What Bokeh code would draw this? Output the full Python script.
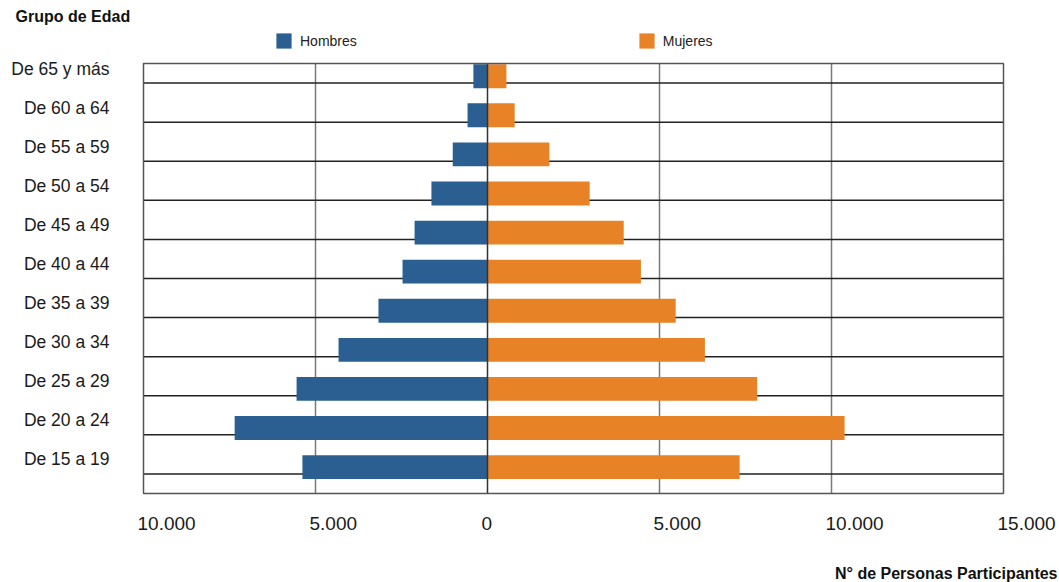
from bokeh.plotting import figure
from bokeh.models import ColumnDataSource, Range1d, Legend, LegendItem, Label, LabelSet
from bokeh.core.properties import value
from bokeh.embed import file_html
from bokeh.resources import INLINE

# ---- data ----
ages = ["De 15 a 19", "De 20 a 24", "De 25 a 29", "De 30 a 34", "De 35 a 39",
        "De 40 a 44", "De 45 a 49", "De 50 a 54", "De 55 a 59", "De 60 a 64", "De 65 y más"]
hombres = [5380, 7350, 5550, 4330, 3170, 2470, 2120, 1630, 1010, 580, 410]
mujeres = [7330, 10380, 7840, 6320, 5470, 4460, 3960, 2970, 1800, 790, 550]
x_ticks = [-10000, -5000, 0, 5000, 10000, 15000]
x_tick_labels = ["10.000", "5.000", "0", "5.000", "10.000", "15.000"]

BLUE = "#2B5F91"
ORANGE = "#E88226"
FONT = "Liberation Sans"
TXT = "#1a1a1a"

W, H = 1059, 582
# plot area (pixels) inside the canvas
FL, FR, FT, FB = 143, 1003, 63, 493
XMIN, XMAX = x_ticks[0], x_ticks[-1]
n = len(ages)
ppx = (FR - FL) / (XMAX - XMIN)
ppy = (FB - FT) / n
x_range = Range1d(XMIN - FL / ppx, XMAX + (W - FR) / ppx)
y_range = Range1d(-(H - FB) / ppy, n + FT / ppy)

p = figure(width=W, height=H, output_backend="svg", toolbar_location=None,
           x_range=x_range, y_range=y_range, min_border=0,
           x_axis_location=None, y_axis_location=None)
p.xgrid.visible = False
p.ygrid.visible = False
p.outline_line_color = None
p.background_fill_color = "white"
p.border_fill_color = "white"

pos = [i + 0.5 for i in range(n)]          # category centres
bar_y = [c + 0.175 for c in pos]
lab_y = [c + 0.37 for c in pos]

# vertical grid lines
vt = [t for t in x_ticks if t not in (XMIN, 0, XMAX)]
p.segment(x0=vt, x1=vt, y0=[0] * len(vt), y1=[n] * len(vt),
          line_color="#7a7a7a", line_width=1.5)
# horizontal grid lines at category centres
p.segment(x0=[XMIN] * n, x1=[XMAX] * n, y0=pos, y1=pos,
          line_color="#222222", line_width=1.5)

src = ColumnDataSource(dict(y=bar_y, h=[-v for v in hombres], m=mujeres, zero=[0] * n))
rh = p.hbar(y="y", left="h", right="zero", height=0.61, source=src,
            fill_color=BLUE, line_color=None)
rm = p.hbar(y="y", left="zero", right="m", height=0.61, source=src,
            fill_color=ORANGE, line_color=None)

# zero line
p.segment(x0=[0], x1=[0], y0=[0], y1=[n], line_color="#333333", line_width=1.5)
# plot frame
p.quad(left=[XMIN], right=[XMAX], bottom=[0], top=[n], fill_color=None,
       line_color="#555555", line_width=1.5)

# y category labels
ylab_src = ColumnDataSource(dict(age=ages, y=lab_y, x=[XMIN] * n))
p.add_layout(LabelSet(x="x", y="y", text="age", x_offset=-34, source=ylab_src,
                      text_align="right", text_baseline="middle",
                      text_font=value(FONT), text_font_size=value("17.5px"),
                      text_color=TXT))

# x tick labels
xlab_src = ColumnDataSource(dict(tick=x_ticks, lab=x_tick_labels, y=[0] * len(x_ticks)))
p.add_layout(LabelSet(x="tick", y="y", text="lab", x_offset=-6, y_offset=-30,
                      source=xlab_src, text_align="left", text_baseline="middle",
                      text_font=value(FONT), text_font_size=value("19px"),
                      text_color=TXT))

# axis titles
p.add_layout(Label(x=XMIN, y=n, x_offset=-(FL - 15), y_offset=FT - 16, text="Grupo de Edad",
                   text_font=FONT, text_font_style="bold", text_font_size="16px",
                   text_baseline="middle", text_align="left", text_color="#111111"))
p.add_layout(Label(x=XMAX, y=0, x_offset=1057 - FR, y_offset=-(573 - FB),
                   text="N° de Personas Participantes",
                   text_font=FONT, text_font_style="bold", text_font_size="16px",
                   text_baseline="middle", text_align="right", text_color="#111111"))

legend = Legend(items=[LegendItem(label="Hombres", renderers=[rh]),
                       LegendItem(label="Mujeres", renderers=[rm])],
                orientation="horizontal", location=(274, H - 50), spacing=280,
                padding=0, margin=0, glyph_width=19, glyph_height=19, label_height=19,
                label_standoff=7, border_line_color=None, background_fill_alpha=0,
                label_text_font=FONT, label_text_font_size="14px", label_text_color="#222222")
p.add_layout(legend)

open("out.html", "w").write(file_html(p, INLINE))
